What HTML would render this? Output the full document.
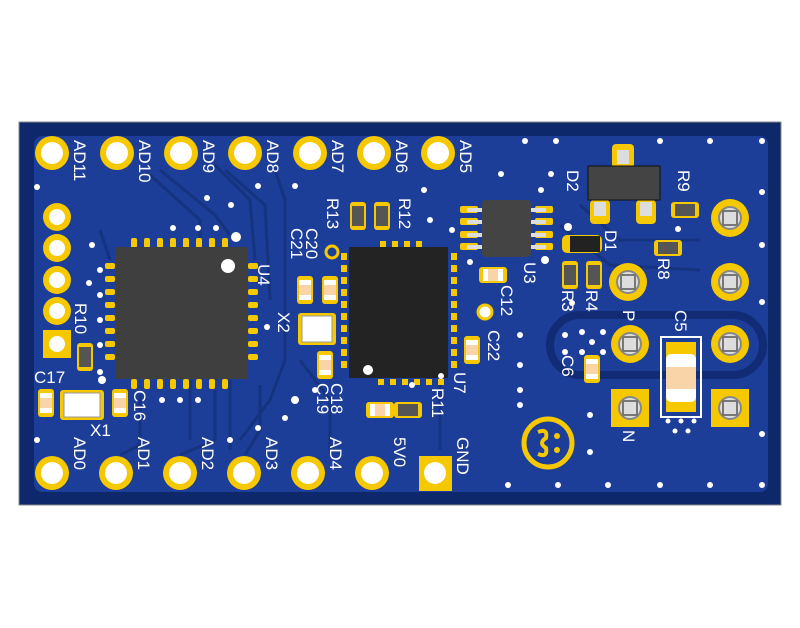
<!DOCTYPE html>
<html><head><meta charset="utf-8"><style>
html,body{margin:0;padding:0;background:#fff;}
svg{display:block;}
text{font-family:"Liberation Sans",sans-serif;fill:#fff;font-size:17px;}
</style></head><body>
<svg width="800" height="628" viewBox="0 0 800 628" xmlns="http://www.w3.org/2000/svg">
<rect x="0" y="0" width="800" height="628" fill="#fff"/>
<rect x="19" y="122" width="762" height="383" fill="#0e286c" stroke="#888" stroke-width="1"/>
<rect x="34" y="136" width="734" height="356" rx="8" fill="#1c3d98"/>
<g stroke="#15337f" stroke-width="3" fill="none">
<path d="M150 175 L200 220 L200 240"/><path d="M160 170 L215 215 L230 235"/>
<path d="M215 165 L250 200 L255 260"/><path d="M225 170 L265 205 L270 300"/>
<path d="M275 170 L285 200 L285 360 L270 400 L240 440"/>
<path d="M260 385 L260 430 L245 455"/><path d="M215 390 L215 440 L180 455"/>
<path d="M140 395 L140 445 L120 455"/><path d="M100 230 L110 260"/>
<path d="M300 360 L330 400 L330 450"/><path d="M440 380 L440 450"/>
<path d="M580 205 L620 240 L700 240"/><path d="M560 225 L610 265 L700 270"/>
<path d="M230 380 L230 450"/><path d="M190 380 L190 440"/>
</g>
<rect x="550" y="315" width="213" height="60" rx="30" fill="none" stroke="#112c74" stroke-width="8"/>
<g fill="#f5c800">
<circle cx="52" cy="153" r="17"/><circle cx="117" cy="153" r="17"/><circle cx="181" cy="153" r="17"/><circle cx="245" cy="153" r="17"/><circle cx="310" cy="153" r="17"/><circle cx="374" cy="153" r="17"/><circle cx="438" cy="153" r="17"/>
<circle cx="52" cy="473" r="17"/><circle cx="116" cy="473" r="17"/><circle cx="180" cy="473" r="17"/><circle cx="244" cy="473" r="17"/><circle cx="308" cy="473" r="17"/><circle cx="372" cy="473" r="17"/>
<rect x="419" y="456" width="33" height="35"/>
<circle cx="57" cy="217" r="14"/><circle cx="57" cy="248" r="14"/><circle cx="57" cy="280" r="14"/><circle cx="57" cy="311" r="14"/>
<rect x="43" y="330" width="28" height="28"/>
<circle cx="730" cy="218" r="19"/><circle cx="730" cy="282" r="19"/><circle cx="628" cy="282" r="19"/><circle cx="630" cy="344" r="19"/><circle cx="730" cy="344" r="19"/>
<rect x="611" y="389" width="38" height="38"/><rect x="711" y="389" width="38" height="38"/>
</g>
<g fill="#fff">
<circle cx="52" cy="153" r="11"/><circle cx="117" cy="153" r="11"/><circle cx="181" cy="153" r="11"/><circle cx="245" cy="153" r="11"/><circle cx="310" cy="153" r="11"/><circle cx="374" cy="153" r="11"/><circle cx="438" cy="153" r="11"/>
<circle cx="52" cy="473" r="11"/><circle cx="116" cy="473" r="11"/><circle cx="180" cy="473" r="11"/><circle cx="244" cy="473" r="11"/><circle cx="308" cy="473" r="11"/><circle cx="372" cy="473" r="11"/><circle cx="435" cy="473" r="11"/>
<circle cx="57" cy="217" r="8"/><circle cx="57" cy="248" r="8"/><circle cx="57" cy="280" r="8"/><circle cx="57" cy="311" r="8"/><circle cx="57" cy="344" r="8"/>
</g>
<g fill="#ddd" stroke="#888" stroke-width="2">
<circle cx="730" cy="218" r="11"/><circle cx="730" cy="282" r="11"/><circle cx="628" cy="282" r="11"/><circle cx="630" cy="344" r="11"/><circle cx="730" cy="344" r="11"/><circle cx="630" cy="408" r="11"/><circle cx="730" cy="408" r="11"/>
</g>
<g fill="none" stroke="#777" stroke-width="2">
<rect x="723" y="211" width="14" height="14"/><rect x="723" y="275" width="14" height="14"/><rect x="621" y="275" width="14" height="14"/><rect x="623" y="337" width="14" height="14"/><rect x="723" y="337" width="14" height="14"/><rect x="623" y="401" width="14" height="14"/><rect x="723" y="401" width="14" height="14"/>
</g>
<g fill="#f5c800">
<rect x="131" y="238" width="6" height="10" rx="2"/><rect x="144" y="238" width="6" height="10" rx="2"/><rect x="157" y="238" width="6" height="10" rx="2"/><rect x="170" y="238" width="6" height="10" rx="2"/><rect x="183" y="238" width="6" height="10" rx="2"/><rect x="196" y="238" width="6" height="10" rx="2"/><rect x="209" y="238" width="6" height="10" rx="2"/><rect x="222" y="238" width="6" height="10" rx="2"/>
<rect x="131" y="379" width="6" height="10" rx="2"/><rect x="144" y="379" width="6" height="10" rx="2"/><rect x="157" y="379" width="6" height="10" rx="2"/><rect x="170" y="379" width="6" height="10" rx="2"/><rect x="183" y="379" width="6" height="10" rx="2"/><rect x="196" y="379" width="6" height="10" rx="2"/><rect x="209" y="379" width="6" height="10" rx="2"/><rect x="222" y="379" width="6" height="10" rx="2"/>
<rect x="105" y="263" width="10" height="6" rx="2"/><rect x="105" y="276" width="10" height="6" rx="2"/><rect x="105" y="289" width="10" height="6" rx="2"/><rect x="105" y="302" width="10" height="6" rx="2"/><rect x="105" y="315" width="10" height="6" rx="2"/><rect x="105" y="328" width="10" height="6" rx="2"/><rect x="105" y="341" width="10" height="6" rx="2"/><rect x="105" y="354" width="10" height="6" rx="2"/>
<rect x="248" y="263" width="10" height="6" rx="2"/><rect x="248" y="276" width="10" height="6" rx="2"/><rect x="248" y="289" width="10" height="6" rx="2"/><rect x="248" y="302" width="10" height="6" rx="2"/><rect x="248" y="315" width="10" height="6" rx="2"/><rect x="248" y="328" width="10" height="6" rx="2"/><rect x="248" y="341" width="10" height="6" rx="2"/><rect x="248" y="354" width="10" height="6" rx="2"/>
</g>
<rect x="115" y="247" width="133" height="132" fill="#3f3f3f"/>
<circle cx="228" cy="266" r="7" fill="#fff"/>
<!-- U7 pads -->
<g fill="#f5c800">
<rect x="341" y="253" width="6" height="7"/><rect x="341" y="265" width="6" height="7"/><rect x="341" y="277" width="6" height="7"/><rect x="341" y="289" width="6" height="7"/><rect x="341" y="301" width="6" height="7"/><rect x="341" y="313" width="6" height="7"/><rect x="341" y="325" width="6" height="7"/><rect x="341" y="337" width="6" height="7"/><rect x="341" y="349" width="6" height="7"/><rect x="341" y="361" width="6" height="7"/>
<rect x="451" y="253" width="6" height="7"/><rect x="451" y="265" width="6" height="7"/><rect x="451" y="277" width="6" height="7"/><rect x="451" y="289" width="6" height="7"/><rect x="451" y="301" width="6" height="7"/><rect x="451" y="313" width="6" height="7"/><rect x="451" y="325" width="6" height="7"/><rect x="451" y="337" width="6" height="7"/><rect x="451" y="349" width="6" height="7"/><rect x="451" y="361" width="6" height="7"/>
<rect x="380" y="241" width="6" height="6"/><rect x="392" y="241" width="6" height="6"/><rect x="404" y="241" width="6" height="6"/><rect x="416" y="241" width="6" height="6"/>
<rect x="378" y="379" width="6" height="6"/><rect x="390" y="379" width="6" height="6"/><rect x="402" y="379" width="6" height="6"/><rect x="414" y="379" width="6" height="6"/><rect x="426" y="379" width="6" height="6"/><rect x="438" y="379" width="6" height="6"/>
</g>
<rect x="349" y="247" width="99" height="131" fill="#232323"/>
<circle cx="368" cy="370" r="5" fill="#fff"/>
<g fill="#f5c800"><rect x="460" y="206" width="18" height="7" rx="2"/><rect x="460" y="218" width="18" height="7" rx="2"/><rect x="460" y="231" width="18" height="7" rx="2"/><rect x="460" y="243" width="18" height="7" rx="2"/>
<rect x="535" y="206" width="18" height="7" rx="2"/><rect x="535" y="218" width="18" height="7" rx="2"/><rect x="535" y="231" width="18" height="7" rx="2"/><rect x="535" y="243" width="18" height="7" rx="2"/></g>
<g fill="#ddd"><rect x="467" y="208" width="15" height="4"/><rect x="467" y="220" width="15" height="4"/><rect x="467" y="233" width="15" height="4"/><rect x="467" y="245" width="15" height="4"/><rect x="531" y="208" width="15" height="4"/><rect x="531" y="220" width="15" height="4"/><rect x="531" y="233" width="15" height="4"/><rect x="531" y="245" width="15" height="4"/></g>
<rect x="482" y="200" width="49" height="57" rx="4" fill="#444"/>
<g fill="#f5c800"><rect x="612" y="144" width="22" height="24" rx="4"/><rect x="590" y="200" width="20" height="24" rx="4"/><rect x="636" y="200" width="20" height="24" rx="4"/></g>
<g fill="#ddd"><rect x="617" y="150" width="12" height="14"/><rect x="594" y="202" width="12" height="14"/><rect x="640" y="202" width="12" height="14"/></g>
<rect x="588" y="166" width="72" height="34" fill="#444" stroke="#111"/>
<rect x="562" y="235" width="40" height="18" rx="5" fill="#f5c800"/><rect x="570" y="236" width="30" height="16" fill="#222"/>
<g>
<g transform="translate(358,216)"><rect x="-8" y="-14" width="16" height="28" rx="3" fill="#f5c800"/><rect x="-6" y="-10" width="12" height="20" fill="#555"/></g>
<g transform="translate(382,216)"><rect x="-8" y="-14" width="16" height="28" rx="3" fill="#f5c800"/><rect x="-6" y="-10" width="12" height="20" fill="#555"/></g>
<g transform="translate(85,357)"><rect x="-8" y="-14" width="16" height="28" rx="3" fill="#f5c800"/><rect x="-6" y="-10" width="12" height="20" fill="#555"/></g>
<g transform="translate(570,275)"><rect x="-8" y="-14" width="16" height="28" rx="3" fill="#f5c800"/><rect x="-6" y="-10" width="12" height="20" fill="#555"/></g>
<g transform="translate(594,275)"><rect x="-8" y="-14" width="16" height="28" rx="3" fill="#f5c800"/><rect x="-6" y="-10" width="12" height="20" fill="#555"/></g>
<g transform="translate(685,210)"><rect x="-14" y="-8" width="28" height="16" rx="3" fill="#f5c800"/><rect x="-10" y="-6" width="20" height="12" fill="#555"/></g>
<g transform="translate(668,248)"><rect x="-14" y="-8" width="28" height="16" rx="3" fill="#f5c800"/><rect x="-10" y="-6" width="20" height="12" fill="#555"/></g>
<g transform="translate(408,410)"><rect x="-14" y="-8" width="28" height="16" rx="3" fill="#f5c800"/><rect x="-10" y="-6" width="20" height="12" fill="#555"/></g>
</g>
<g>
<g transform="translate(305,290)"><rect x="-8" y="-14" width="16" height="28" rx="3" fill="#f5c800"/><rect x="-6" y="-10" width="12" height="20" fill="#f8d4a8"/><rect x="-6" y="-10" width="12" height="5" fill="#fff"/><rect x="-6" y="5" width="12" height="5" fill="#fff"/></g>
<g transform="translate(330,290)"><rect x="-8" y="-14" width="16" height="28" rx="3" fill="#f5c800"/><rect x="-6" y="-10" width="12" height="20" fill="#f8d4a8"/><rect x="-6" y="-10" width="12" height="5" fill="#fff"/><rect x="-6" y="5" width="12" height="5" fill="#fff"/></g>
<g transform="translate(325,365)"><rect x="-8" y="-14" width="16" height="28" rx="3" fill="#f5c800"/><rect x="-6" y="-10" width="12" height="20" fill="#f8d4a8"/><rect x="-6" y="-10" width="12" height="5" fill="#fff"/><rect x="-6" y="5" width="12" height="5" fill="#fff"/></g>
<g transform="translate(472,350)"><rect x="-8" y="-14" width="16" height="28" rx="3" fill="#f5c800"/><rect x="-6" y="-10" width="12" height="20" fill="#f8d4a8"/><rect x="-6" y="-10" width="12" height="5" fill="#fff"/><rect x="-6" y="5" width="12" height="5" fill="#fff"/></g>
<g transform="translate(592,369)"><rect x="-8" y="-14" width="16" height="28" rx="3" fill="#f5c800"/><rect x="-6" y="-10" width="12" height="20" fill="#f8d4a8"/><rect x="-6" y="-10" width="12" height="5" fill="#fff"/><rect x="-6" y="5" width="12" height="5" fill="#fff"/></g>
<g transform="translate(46,403)"><rect x="-8" y="-14" width="16" height="28" rx="3" fill="#f5c800"/><rect x="-6" y="-10" width="12" height="20" fill="#f8d4a8"/><rect x="-6" y="-10" width="12" height="5" fill="#fff"/><rect x="-6" y="5" width="12" height="5" fill="#fff"/></g>
<g transform="translate(120,403)"><rect x="-8" y="-14" width="16" height="28" rx="3" fill="#f5c800"/><rect x="-6" y="-10" width="12" height="20" fill="#f8d4a8"/><rect x="-6" y="-10" width="12" height="5" fill="#fff"/><rect x="-6" y="5" width="12" height="5" fill="#fff"/></g>
<g transform="translate(493,275)"><rect x="-14" y="-8" width="28" height="16" rx="3" fill="#f5c800"/><rect x="-10" y="-6" width="20" height="12" fill="#f8d4a8"/><rect x="-10" y="-6" width="5" height="12" fill="#fff"/><rect x="5" y="-6" width="5" height="12" fill="#fff"/></g>
<g transform="translate(380,410)"><rect x="-14" y="-8" width="28" height="16" rx="3" fill="#f5c800"/><rect x="-10" y="-6" width="20" height="12" fill="#f8d4a8"/><rect x="-10" y="-6" width="5" height="12" fill="#fff"/><rect x="5" y="-6" width="5" height="12" fill="#fff"/></g>
</g>
<rect x="661" y="337" width="40" height="80" fill="none" stroke="#fff" stroke-width="2"/>
<rect x="666" y="342" width="30" height="70" fill="#f5c800"/>
<rect x="666" y="354" width="30" height="48" rx="5" fill="#fff"/>
<rect x="666" y="367" width="30" height="22" fill="#f8d4a8"/>
<rect x="298" y="313" width="38" height="32" rx="3" fill="#f5c800"/><rect x="302" y="316" width="30" height="26" fill="#fff" stroke="#999"/>
<rect x="60" y="390" width="44" height="30" rx="3" fill="#f5c800"/><rect x="64" y="393" width="36" height="24" fill="#fff" stroke="#999"/>
<circle cx="332" cy="252" r="6" fill="#1c3d98" stroke="#f5c800" stroke-width="3"/>
<circle cx="485" cy="312" r="7" fill="#fff" stroke="#f5c800" stroke-width="3"/>
<circle cx="548" cy="443" r="24" fill="none" stroke="#f5c800" stroke-width="5"/>
<path d="M538 432 Q548 428 546 438 Q538 443 546 448 Q548 458 538 454" fill="none" stroke="#f5c800" stroke-width="4"/>
<circle cx="557" cy="436" r="3" fill="#f5c800"/><circle cx="557" cy="450" r="3" fill="#f5c800"/>
<g fill="#fff">
<circle cx="37" cy="187" r="3"/><circle cx="231" cy="205" r="3"/><circle cx="258" cy="186" r="3"/><circle cx="295" cy="186" r="3"/><circle cx="207" cy="198" r="3"/>
<circle cx="173" cy="228" r="3"/><circle cx="198" cy="228" r="3"/><circle cx="216" cy="228" r="3"/><circle cx="236" cy="237" r="5"/><circle cx="92" cy="245" r="3"/><circle cx="89" cy="283" r="3"/>
<circle cx="100" cy="270" r="3"/><circle cx="100" cy="295" r="3"/><circle cx="100" cy="320" r="3"/><circle cx="100" cy="345" r="3"/><circle cx="100" cy="372" r="3"/>
<circle cx="267" cy="327" r="3"/><circle cx="102" cy="380" r="4"/><circle cx="162" cy="400" r="3"/><circle cx="180" cy="400" r="3"/><circle cx="198" cy="400" r="3"/>
<circle cx="295" cy="400" r="4"/><circle cx="285" cy="418" r="3"/><circle cx="258" cy="428" r="3"/><circle cx="230" cy="440" r="3"/><circle cx="37" cy="440" r="3"/>
<circle cx="525" cy="141" r="3"/><circle cx="556" cy="141" r="3"/><circle cx="660" cy="141" r="3"/><circle cx="710" cy="141" r="3"/><circle cx="762" cy="141" r="3"/>
<circle cx="501" cy="174" r="3"/><circle cx="551" cy="174" r="3"/><circle cx="541" cy="190" r="3"/><circle cx="762" cy="192" r="3"/><circle cx="762" cy="245" r="3"/><circle cx="762" cy="302" r="3"/><circle cx="762" cy="434" r="3"/>
<circle cx="568" cy="227" r="4"/><circle cx="545" cy="260" r="4"/><circle cx="678" cy="229" r="3"/><circle cx="572" cy="303" r="3"/><circle cx="565" cy="335" r="3"/><circle cx="565" cy="352" r="3"/><circle cx="582" cy="332" r="3"/><circle cx="582" cy="352" r="3"/><circle cx="592" cy="342" r="3"/><circle cx="603" cy="332" r="3"/><circle cx="603" cy="352" r="3"/>
<circle cx="520" cy="335" r="3"/><circle cx="520" cy="365" r="3"/><circle cx="520" cy="390" r="3"/><circle cx="520" cy="405" r="3"/><circle cx="590" cy="415" r="3"/><circle cx="590" cy="452" r="3"/>
<circle cx="508" cy="485" r="3"/><circle cx="558" cy="485" r="3"/><circle cx="608" cy="485" r="3"/><circle cx="660" cy="485" r="3"/><circle cx="710" cy="485" r="3"/><circle cx="762" cy="485" r="3"/>
<circle cx="668" cy="421" r="2.5"/><circle cx="681" cy="421" r="2.5"/><circle cx="694" cy="421" r="2.5"/><circle cx="675" cy="431" r="2.5"/><circle cx="688" cy="431" r="2.5"/>
<circle cx="424" cy="190" r="3"/><circle cx="452" cy="230" r="3"/><circle cx="430" cy="220" r="3"/><circle cx="470" cy="262" r="3"/><circle cx="412" cy="385" r="3"/><circle cx="315" cy="390" r="3"/><circle cx="441" cy="376" r="3"/>
</g>
<g>
<text transform="translate(74,140) rotate(90)">AD11</text>
<text transform="translate(139,140) rotate(90)">AD10</text>
<text transform="translate(203,140) rotate(90)">AD9</text>
<text transform="translate(267,140) rotate(90)">AD8</text>
<text transform="translate(332,140) rotate(90)">AD7</text>
<text transform="translate(396,140) rotate(90)">AD6</text>
<text transform="translate(460,140) rotate(90)">AD5</text>
<text transform="translate(74,437) rotate(90)">AD0</text>
<text transform="translate(138,437) rotate(90)">AD1</text>
<text transform="translate(202,437) rotate(90)">AD2</text>
<text transform="translate(266,437) rotate(90)">AD3</text>
<text transform="translate(330,437) rotate(90)">AD4</text>
<text transform="translate(394,437) rotate(90)">5V0</text>
<text transform="translate(457,437) rotate(90)">GND</text>
<text transform="translate(258,264) rotate(90)">U4</text>
<text transform="translate(278,312) rotate(90)">X2</text>
<text transform="translate(306,228) rotate(90)" font-size="15">C20</text>
<text transform="translate(291,228) rotate(90)" font-size="15">C21</text>
<text transform="translate(327,198) rotate(90)" font-size="15">R13</text>
<text transform="translate(399,198) rotate(90)" font-size="15">R12</text>
<text transform="translate(524,262) rotate(90)" font-size="15">U3</text>
<text transform="translate(501,285) rotate(90)" font-size="15">C12</text>
<text transform="translate(488,330) rotate(90)" font-size="15">C22</text>
<text transform="translate(454,372) rotate(90)" font-size="15">U7</text>
<text transform="translate(432,388) rotate(90)" font-size="15">R11</text>
<text transform="translate(331,383) rotate(90)" font-size="15">C18</text>
<text transform="translate(317,383) rotate(90)" font-size="15">C19</text>
<text transform="translate(134,390) rotate(90)" font-size="15">C16</text>
<text transform="translate(75,303) rotate(90)" font-size="15">R10</text>
<text x="34" y="383" font-size="15">C17</text>
<text x="90" y="436" font-size="15">X1</text>
<text transform="translate(567,170) rotate(90)" font-size="15">D2</text>
<text transform="translate(605,230) rotate(90)" font-size="15">D1</text>
<text transform="translate(678,170) rotate(90)" font-size="15">R9</text>
<text transform="translate(658,258) rotate(90)" font-size="15">R8</text>
<text transform="translate(562,290) rotate(90)" font-size="15">R3</text>
<text transform="translate(586,290) rotate(90)" font-size="15">R4</text>
<text transform="translate(623,310) rotate(90)" font-size="17">P</text>
<text transform="translate(675,310) rotate(90)" font-size="15">C5</text>
<text transform="translate(562,355) rotate(90)" font-size="15">C6</text>
<text transform="translate(623,430) rotate(90)" font-size="17">N</text>
</g>
</svg>
</body></html>
